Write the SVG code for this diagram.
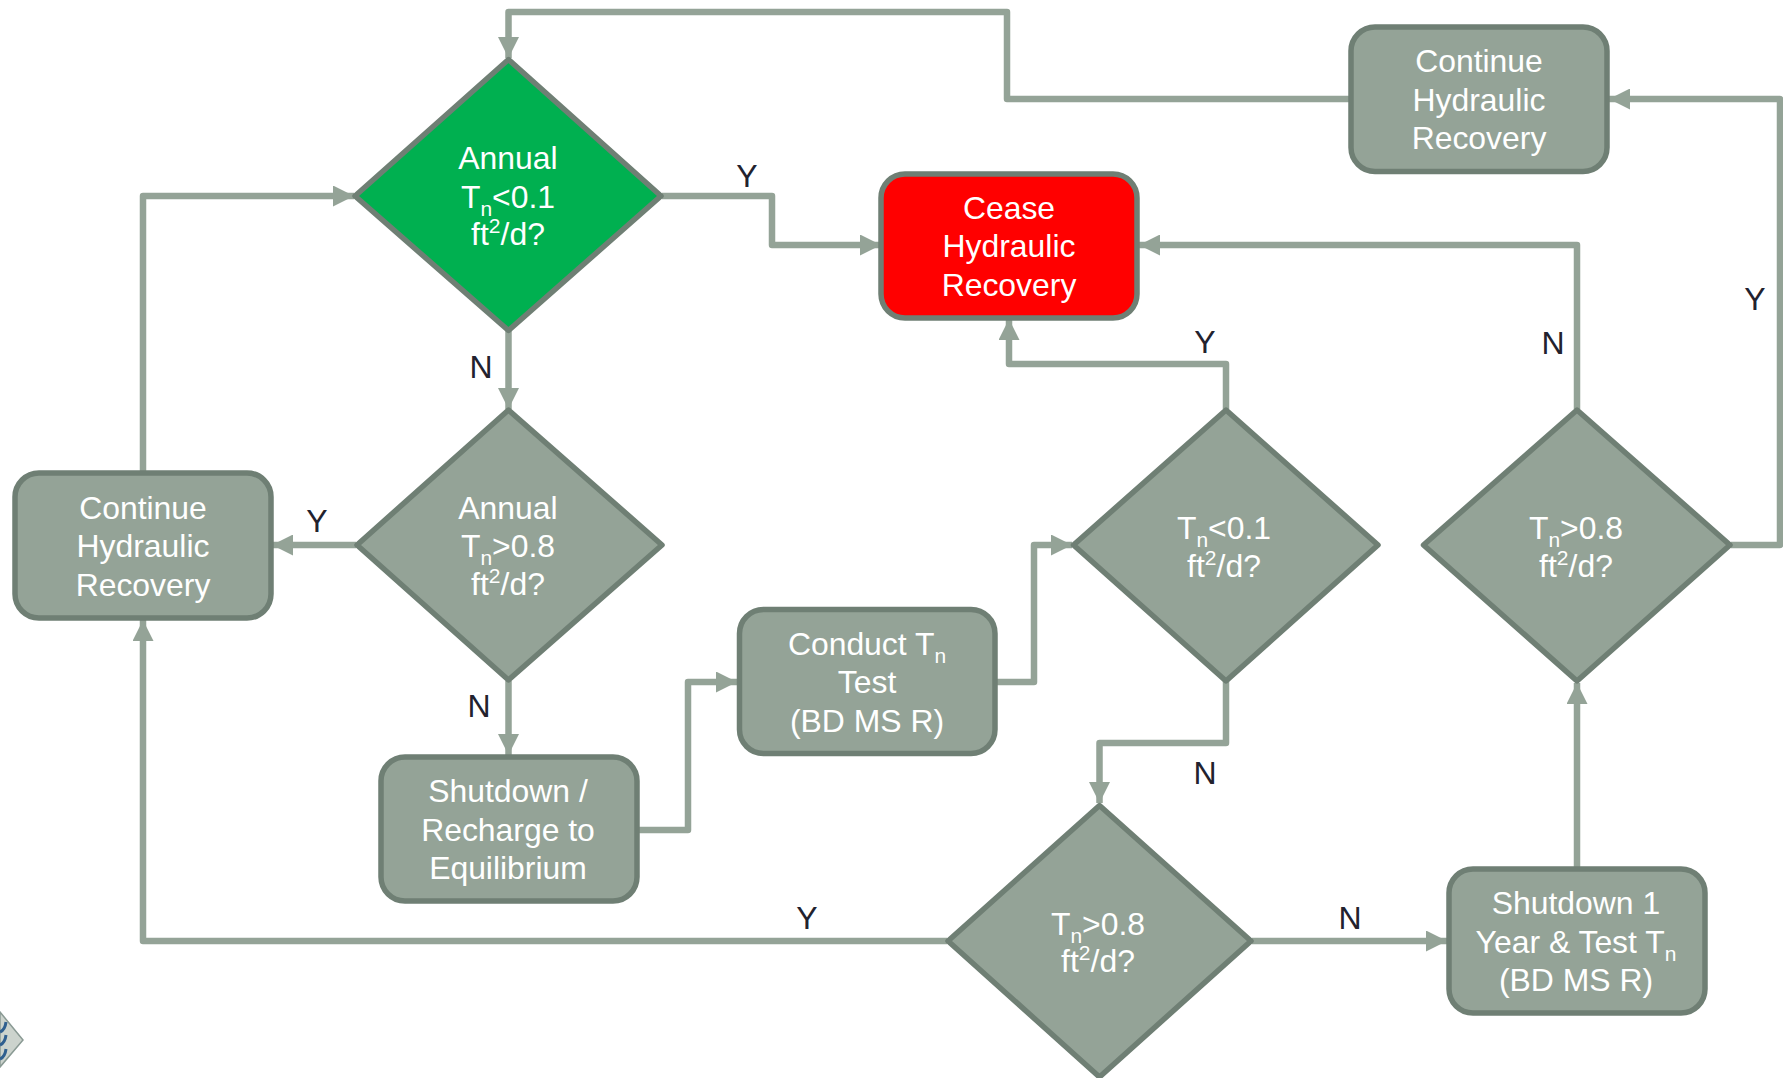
<svg xmlns="http://www.w3.org/2000/svg" width="1783" height="1078" viewBox="0 0 1783 1078">
<style>
.n{fill:#94a397;stroke:#6f7f74;stroke-width:5.500;stroke-linejoin:round}
.t{font-family:"Liberation Sans",Arial,sans-serif;font-size:31.900px;fill:#fff;text-anchor:middle}
.s{font-size:21px}
.l{font-family:"Liberation Sans",Arial,sans-serif;font-size:32px;fill:#22222e;text-anchor:middle}
.c{fill:none;stroke:#94a397;stroke-width:6.500;stroke-linejoin:round;stroke-linecap:butt}
.a{stroke:none;fill:#94a397}
</style>
<defs>
<marker id="ah" viewBox="0 0 21 21" refX="21" refY="10.500" markerUnits="userSpaceOnUse" markerWidth="21" markerHeight="21" orient="auto"><path d="M0 0L21 10.500L0 21Z" class="a"/></marker>
</defs>
<g id="logo">
<path d="M0 1012L23 1040L0 1067Z" fill="#ccd3cd" stroke="#8a9a94" stroke-width="1.500"/>
<path d="M0 1032Q5 1030 6 1022M0 1045Q5 1043 6 1035M0 1059Q5 1057 6 1049" fill="none" stroke="#2f5f8f" stroke-width="3"/>
</g>
<g id="connectors">
<path class="c" marker-end="url(#ah)" d="M1350 99H1007V12H508.500V58"/>
<path class="c" marker-end="url(#ah)" d="M662 196H772V245H881"/>
<path class="c" marker-end="url(#ah)" d="M508.500 331V409"/>
<path class="c" marker-end="url(#ah)" d="M143 471V196H354"/>
<path class="c" marker-end="url(#ah)" d="M356 545H272"/>
<path class="c" marker-end="url(#ah)" d="M508.500 681V755"/>
<path class="c" marker-end="url(#ah)" d="M638 830H688V682H737"/>
<path class="c" marker-end="url(#ah)" d="M996 682H1034V545H1072"/>
<path class="c" marker-end="url(#ah)" d="M1226 409V364H1009V319"/>
<path class="c" marker-end="url(#ah)" d="M1226 681V743H1099.500V803"/>
<path class="c" marker-end="url(#ah)" d="M947 941H143V620"/>
<path class="c" marker-end="url(#ah)" d="M1252 941H1447"/>
<path class="c" marker-end="url(#ah)" d="M1577 869V683"/>
<path class="c" marker-end="url(#ah)" d="M1577 409V245H1139"/>
<path class="c" marker-end="url(#ah)" d="M1731 545H1780V99H1609"/>
</g>
<g id="labels">
<text class="l" x="747" y="187">Y</text>
<text class="l" x="481" y="378">N</text>
<text class="l" x="317" y="532">Y</text>
<text class="l" x="479" y="717">N</text>
<text class="l" x="1205" y="353">Y</text>
<text class="l" x="1553" y="354">N</text>
<text class="l" x="1755" y="310">Y</text>
<text class="l" x="1205" y="784">N</text>
<text class="l" x="807" y="929">Y</text>
<text class="l" x="1350" y="929">N</text>
</g>
<g id="d1">
<path class="n" style="fill:#00b050" d="M508.500 59.500L661 196L508.500 330.500L355 196Z"/>
<text class="t" x="508" y="169">Annual</text>
<text class="t" x="508" y="208">T<tspan class="s" dy="8">n</tspan><tspan dy="-8">&lt;0.1</tspan></text>
<text class="t" x="508" y="245">ft<tspan class="s" dy="-12">2</tspan><tspan dy="12">/d?</tspan></text>
</g>
<g id="d2">
<path class="n" d="M508.500 410L662 545L508.500 680L357 545Z"/>
<text class="t" x="508" y="519">Annual</text>
<text class="t" x="508" y="557">T<tspan class="s" dy="8">n</tspan><tspan dy="-8">&gt;0.8</tspan></text>
<text class="t" x="508" y="595">ft<tspan class="s" dy="-12">2</tspan><tspan dy="12">/d?</tspan></text>
</g>
<g id="d3">
<path class="n" d="M1226 410L1378 545L1226 681L1073.500 545Z"/>
<text class="t" x="1224" y="538.500">T<tspan class="s" dy="8">n</tspan><tspan dy="-8">&lt;0.1</tspan></text>
<text class="t" x="1224" y="577">ft<tspan class="s" dy="-12">2</tspan><tspan dy="12">/d?</tspan></text>
</g>
<g id="d4">
<path class="n" d="M1577 410L1730 545L1577 681L1423.500 545Z"/>
<text class="t" x="1576" y="538.500">T<tspan class="s" dy="8">n</tspan><tspan dy="-8">&gt;0.8</tspan></text>
<text class="t" x="1576" y="577">ft<tspan class="s" dy="-12">2</tspan><tspan dy="12">/d?</tspan></text>
</g>
<g id="d5">
<path class="n" d="M1099.500 805.500L1251 941L1099.500 1077L948 941Z"/>
<text class="t" x="1098" y="934.500">T<tspan class="s" dy="8">n</tspan><tspan dy="-8">&gt;0.8</tspan></text>
<text class="t" x="1098" y="972">ft<tspan class="s" dy="-12">2</tspan><tspan dy="12">/d?</tspan></text>
</g>
<g id="r1">
<rect class="n" x="1351" y="27" width="256" height="144.500" rx="24"/>
<text class="t" x="1479" y="72">Continue</text>
<text class="t" x="1479" y="111">Hydraulic</text>
<text class="t" x="1479" y="149">Recovery</text>
</g>
<g id="cease">
<rect class="n" style="fill:#f00" x="881" y="174" width="256" height="144" rx="24"/>
<text class="t" x="1009" y="219">Cease</text>
<text class="t" x="1009" y="257">Hydraulic</text>
<text class="t" x="1009" y="296">Recovery</text>
</g>
<g id="r2">
<rect class="n" x="15" y="473" width="256" height="145" rx="24"/>
<text class="t" x="143" y="519">Continue</text>
<text class="t" x="143" y="557">Hydraulic</text>
<text class="t" x="143" y="596">Recovery</text>
</g>
<g id="conduct">
<rect class="n" x="739.500" y="609.500" width="255.500" height="144" rx="24"/>
<text class="t" x="867" y="655">Conduct T<tspan class="s" dy="8">n</tspan></text>
<text class="t" x="867" y="693">Test</text>
<text class="t" x="867" y="732">(BD MS R)</text>
</g>
<g id="shutdown">
<rect class="n" x="381" y="757" width="256" height="144" rx="24"/>
<text class="t" x="508" y="802">Shutdown /</text>
<text class="t" x="508" y="841">Recharge to</text>
<text class="t" x="508" y="879">Equilibrium</text>
</g>
<g id="shutdown1">
<rect class="n" x="1449" y="869" width="256" height="144" rx="24"/>
<text class="t" x="1576" y="914">Shutdown 1</text>
<text class="t" x="1576" y="953">Year &amp; Test T<tspan class="s" dy="8">n</tspan></text>
<text class="t" x="1576" y="991">(BD MS R)</text>
</g>
</svg>
